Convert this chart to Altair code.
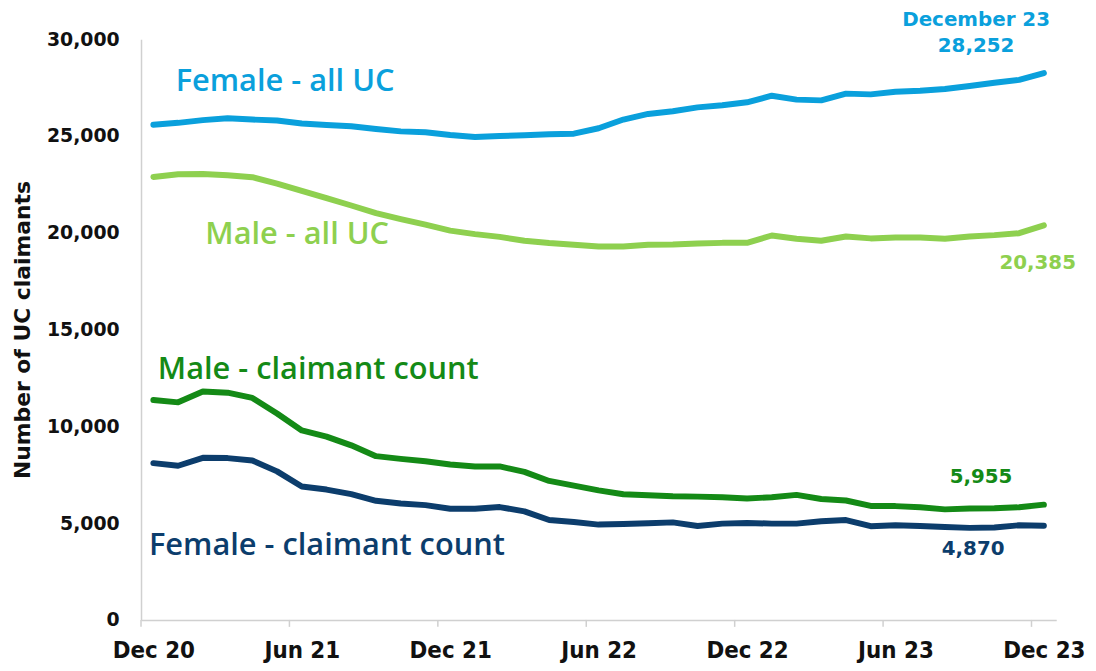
import altair as alt
import pandas as pd

months = ["Dec 20", "Jan 21", "Feb 21", "Mar 21", "Apr 21", "May 21", "Jun 21",
          "Jul 21", "Aug 21", "Sep 21", "Oct 21", "Nov 21", "Dec 21",
          "Jan 22", "Feb 22", "Mar 22", "Apr 22", "May 22", "Jun 22",
          "Jul 22", "Aug 22", "Sep 22", "Oct 22", "Nov 22", "Dec 22",
          "Jan 23", "Feb 23", "Mar 23", "Apr 23", "May 23", "Jun 23",
          "Jul 23", "Aug 23", "Sep 23", "Oct 23", "Nov 23", "Dec 23"]

female_all_uc = [25580, 25680, 25820, 25920, 25850, 25800, 25650, 25570, 25500, 25360,
                 25240, 25190, 25050, 24950, 25000, 25040, 25090, 25120, 25400, 25850,
                 26140, 26280, 26480, 26590, 26740, 27080, 26880, 26840, 27190, 27150,
                 27290, 27340, 27430, 27580, 27750, 27900, 28252]
male_all_uc = [22880, 23020, 23040, 22970, 22870, 22540, 22170, 21790, 21410, 21020,
               20710, 20420, 20110, 19930, 19790, 19590, 19470, 19380, 19290, 19290,
               19380, 19400, 19450, 19480, 19480, 19860, 19690, 19590, 19810, 19710,
               19760, 19760, 19690, 19810, 19880, 19980, 20385]
male_claimant = [11360, 11240, 11800, 11740, 11470, 10660, 9790, 9470, 9020, 8460,
                 8320, 8200, 8030, 7930, 7930, 7650, 7180, 6940, 6690, 6490,
                 6440, 6390, 6370, 6340, 6270, 6340, 6460, 6250, 6170, 5890,
                 5880, 5820, 5710, 5760, 5770, 5820, 5955]
female_claimant = [8100, 7965, 8375, 8360, 8240, 7675, 6890, 6735, 6495, 6155,
                   6015, 5930, 5745, 5745, 5830, 5605, 5160, 5060, 4925, 4960,
                   4990, 5040, 4855, 4975, 5010, 4975, 4975, 5095, 5160, 4840,
                   4890, 4855, 4805, 4755, 4770, 4890, 4870]

series_names = ["Female - all UC", "Male - all UC", "Male - claimant count", "Female - claimant count"]
series_colors = ["#0AA0DC", "#8ED04F", "#148A16", "#0C3D6C"]
series_widths = [6, 6, 4.5, 4.5]

tick_labels = ["Dec 20", "Jun 21", "Dec 21", "Jun 22", "Dec 22", "Jun 23", "Dec 23"]
y_ticks = [0, 5000, 10000, 15000, 20000, 25000, 30000]

# annotation texts with positions in data units (month index, value)
ann_text = ["Female - all UC", "Male - all UC", "Male - claimant count", "Female - claimant count",
            "December 23", "28,252", "20,385", "5,955", "4,870"]
ann_x = [0.9, 2.1, 0.18, -0.18, 33.26, 33.26, 35.75, 33.46, 33.14]
ann_y = [27795, 19900, 12920, 3795, 31000, 29670, 18460, 7385, 3640]
ann_color = ["#0AA0DC", "#8ED04F", "#148A16", "#0C3D6C",
             "#0AA0DC", "#0AA0DC", "#8ED04F", "#148A16", "#0C3D6C"]
ann_kind = ["series", "series", "series", "series", "value", "value", "value", "value", "value"]

rows = []
for name, vals in zip(series_names, [female_all_uc, male_all_uc, male_claimant, female_claimant]):
    for i, v in enumerate(vals):
        rows.append({"idx": i, "month": months[i], "value": v, "series": name})
df = pd.DataFrame(rows)

ann = pd.DataFrame({"text": ann_text, "x": ann_x, "y": ann_y, "color": ann_color, "kind": ann_kind})

label_map = "{" + ",".join(f"'{months.index(t)}':'{t}'" for t in tick_labels) + "}"

W, H = 922, 585
FONT = "DejaVu Sans"
AXIS_GREY = "#D0D0D0"

xscale = alt.Scale(domain=[-0.5, 36.5], nice=False, zero=False)
yscale = alt.Scale(domain=[0, 30000], nice=False)

lines = alt.Chart(df).mark_line(strokeCap="round", strokeJoin="round").encode(
    x=alt.X("idx:Q", scale=xscale,
            axis=alt.Axis(values=[months.index(t) for t in tick_labels],
                          labelExpr=label_map + "[datum.value]",
                          ticks=False, grid=False, domain=True, domainColor=AXIS_GREY,
                          domainWidth=1.5,
                          labelFont="Liberation Sans Narrow, DejaVu Sans Condensed, Liberation Sans",
                          labelFontSize=24, labelFontWeight="bold", labelColor="#111111",
                          labelPadding=19, labelFlush=False, title=None)),
    y=alt.Y("value:Q", scale=yscale,
            axis=alt.Axis(values=y_ticks, format=",d", ticks=False, grid=False, domain=True,
                          domainColor=AXIS_GREY, domainWidth=1.5,
                          labelFont=FONT, labelFontSize=19, labelFontWeight="bold",
                          labelColor="#111111", labelPadding=22,
                          title="Number of UC claimants", titleFont=FONT, titleFontSize=22,
                          titleFontWeight="bold", titleColor="#111111", titlePadding=12)),
    color=alt.Color("series:N", scale=alt.Scale(domain=series_names, range=series_colors), legend=None),
    strokeWidth=alt.StrokeWidth("series:N", scale=alt.Scale(domain=series_names, range=series_widths), legend=None),
    detail="series:N",
)

tick_df = pd.DataFrame({"t": [months.index(t) - 0.5 for t in tick_labels[:-1]] + [35.5]})
ticks = alt.Chart(tick_df).mark_rule(color=AXIS_GREY, strokeWidth=1.5).encode(
    x=alt.X("t:Q", scale=xscale),
    y=alt.value(H), y2=alt.value(H + 7),
)

series_text = alt.Chart(ann[ann.kind == "series"]).mark_text(
    font="Open Sans", fontSize=31, fontWeight=600, align="left", baseline="middle"
).encode(
    x=alt.X("x:Q", scale=xscale), y=alt.Y("y:Q", scale=yscale),
    text="text:N", color=alt.Color("color:N", scale=None),
)

value_text = alt.Chart(ann[ann.kind == "value"]).mark_text(
    font=FONT, fontSize=20, fontWeight="bold", align="center", baseline="middle"
).encode(
    x=alt.X("x:Q", scale=xscale), y=alt.Y("y:Q", scale=yscale),
    text="text:N", color=alt.Color("color:N", scale=None),
)

chart = alt.layer(lines, ticks, series_text, value_text).properties(
    width=W, height=H,
    autosize=alt.AutoSizeParams(type="none"),
    padding={"left": 134, "top": 29, "right": 32, "bottom": 48},
    background="white",
).configure_view(stroke=None)

chart.save("out.html", embed_options={"renderer": "svg", "actions": False})
